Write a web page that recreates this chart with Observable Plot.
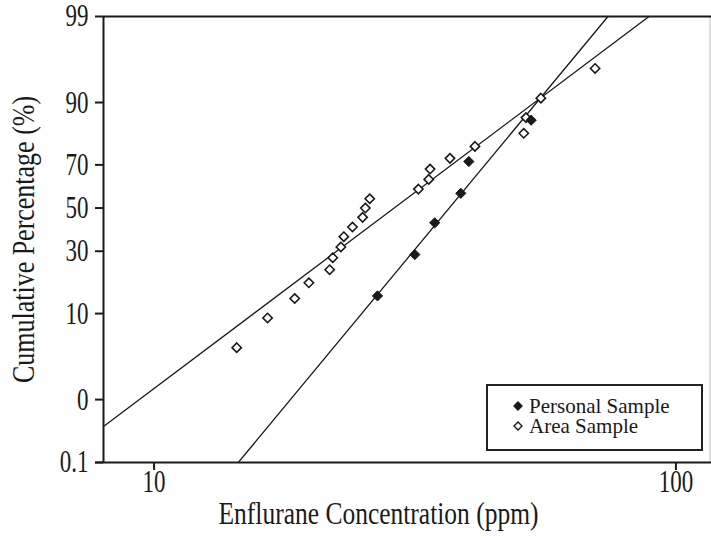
<!DOCTYPE html>
<html><head><meta charset="utf-8">
<script src="https://cdn.jsdelivr.net/npm/d3@7"></script>
<script src="https://cdn.jsdelivr.net/npm/@observablehq/plot@0.6"></script>
<style>
body{margin:0;background:#fff;}
#wrap{position:relative;width:711px;height:538px;font-family:Liberation Serif, Times New Roman, serif;color:#1a1a1a;}
#wrap svg{display:block;}
#legend{position:absolute;left:486px;top:384px;width:217px;height:67px;box-sizing:border-box;border:2px solid #222;background:#fff;font-size:21px;}
#legend .row{position:absolute;left:0;height:20px;line-height:20px;white-space:nowrap;}
#legend .row svg{position:absolute;left:25px;top:5px;}
#legend .row span{position:absolute;left:41px;top:0;}
</style></head><body><div id="wrap"></div>
<script>
// Data
const personalConc = [26.8, 31.6, 34.5, 38.7, 40.1, 52.8];
const personalPct  = [14.3, 28.6, 42.9, 57.1, 71.4, 85.7];
const areaConc = [14.4, 16.5, 18.6, 19.8, 21.7, 22.0, 22.8, 23.1, 24.0, 25.1, 25.4, 25.9, 32.1, 33.6, 33.8, 36.9, 41.2, 51.1, 51.6, 55.1, 70.0];
const areaPct  = [4.5, 9.1, 13.6, 18.2, 22.7, 27.3, 31.8, 36.4, 40.9, 45.5, 50.0, 54.5, 59.1, 63.6, 68.2, 72.7, 77.3, 81.8, 86.4, 90.9, 95.5];
const personalFitConc = [14.5, 74.1];
const personalFitPct  = [0.1, 99];
const areaFitConc = [8.0, 88.8];
const areaFitPct  = [0.4, 99];
const yTicks = [0.1, 1, 10, 30, 50, 70, 90, 99];
const yTickLabels = ["0.1", "0", "10", "30", "50", "70", "90", "99"];
const xTicks = [10, 100];
const xTickLabels = ["10", "100"];
const xDomain = [8.0, 117];
const yDomainPct = [0.1, 99];
const seriesNames = ["Personal Sample", "Area Sample"];
const xTitle = "Enflurane Concentration (ppm)";
const yTitle = "Cumulative Percentage (%)";

// normal-probability (probit) transform for the y scale
function probit(p){
  const a=[-3.969683028665376e+01,2.209460984245205e+02,-2.759285104469687e+02,1.383577518672690e+02,-3.066479806614716e+01,2.506628277459239e+00];
  const b=[-5.447609879822406e+01,1.615858368580409e+02,-1.556989798598866e+02,6.680131188771972e+01,-1.328068155288572e+01];
  const c=[-7.784894002430293e-03,-3.223964580411365e-01,-2.400758277161838e+00,-2.549732539343734e+00,4.374664141464968e+00,2.938163982698783e+00];
  const d=[7.784695709041462e-03,3.224671290700398e-01,2.445134137142996e+00,3.754408661907416e+00];
  const pl=0.02425, ph=1-pl;
  let q,r;
  if(p<pl){q=Math.sqrt(-2*Math.log(p));return (((((c[0]*q+c[1])*q+c[2])*q+c[3])*q+c[4])*q+c[5])/((((d[0]*q+d[1])*q+d[2])*q+d[3])*q+1);}
  if(p<=ph){q=p-0.5;r=q*q;return (((((a[0]*r+a[1])*r+a[2])*r+a[3])*r+a[4])*r+a[5])*q/(((((b[0]*r+b[1])*r+b[2])*r+b[3])*r+b[4])*r+1);}
  q=Math.sqrt(-2*Math.log(1-p));return -(((((c[0]*q+c[1])*q+c[2])*q+c[3])*q+c[4])*q+c[5])/((((d[0]*q+d[1])*q+d[2])*q+d[3])*q+1);
}
const z = pct => probit(pct/100);

const personal = personalConc.map((x,i)=>({x, y:z(personalPct[i])}));
const area = areaConc.map((x,i)=>({x, y:z(areaPct[i])}));
const personalFit = personalFitConc.map((x,i)=>({x, y:z(personalFitPct[i])}));
const areaFit = areaFitConc.map((x,i)=>({x, y:z(areaFitPct[i])}));
const yTickZ = yTicks.map(z);
const yDomain = yDomainPct.map(z);
const fmtY = d => { const i = yTickZ.findIndex(t=>Math.abs(t-d)<1e-9); return i<0 ? "" : yTickLabels[i]; };
const fmtX = d => { const i = xTicks.indexOf(d); return i<0 ? "" : xTickLabels[i]; };

const ink = "#1a1a1a";
const chart = Plot.plot({
  width: 711, height: 538,
  marginLeft: 103, marginRight: 0, marginTop: 16, marginBottom: 76,
  style: {fontFamily: "Liberation Serif, Times New Roman, serif", background: "#fff", color: ink},
  x: {type: "log", domain: xDomain},
  y: {domain: yDomain},
  marks: [
    Plot.ruleX([xDomain[1]], {stroke: "#bdbdbd", strokeWidth: 1, dx: -1.5}),
    Plot.line(areaFit, {x:"x", y:"y", stroke: ink, strokeWidth: 1.3, clip: true}),
    Plot.line(personalFit, {x:"x", y:"y", stroke: ink, strokeWidth: 1.3, clip: true}),
    Plot.dot(area, {x:"x", y:"y", symbol:"diamond2", r:4.2, stroke: ink, strokeWidth: 1.6, fill:"#fff"}),
    Plot.dot(personal, {x:"x", y:"y", symbol:"diamond2", r:4.6, stroke: ink, strokeWidth: 1, fill: ink}),
    Plot.ruleX([xDomain[0]], {stroke: ink, strokeWidth: 2}),
    Plot.ruleY([yDomain[1]], {stroke: ink, strokeWidth: 2}),
    Plot.ruleY([yDomain[0]], {stroke: ink, strokeWidth: 2, insetLeft: -8}),
    Plot.axisY({ticks: yTickZ, tickFormat: fmtY, tickSize: 8, tickPadding: 7, fontSize: 23, strokeWidth: 2, label: null}),
    Plot.axisX({ticks: xTicks, tickFormat: fmtX, tickSize: 8, tickPadding: 3, fontSize: 23, strokeWidth: 2, label: null}),
    Plot.text([xTitle], {frameAnchor: "bottom", dy: 52, dx: -29, lineAnchor: "middle", textAnchor: "middle", fontSize: 25.5, fill: ink}),
    Plot.text([yTitle], {frameAnchor: "left", rotate: -90, dx: -79, lineAnchor: "middle", textAnchor: "middle", fontSize: 26, fill: ink})
  ]
});
const wrap = document.getElementById("wrap");
wrap.appendChild(chart);

// the reference typeface is tall and narrow: stretch glyphs vertically about their centre
function stretch(el, k){
  const b = el.getBBox();
  const cy = b.y + b.height/2;
  const t = el.getAttribute("transform") || "";
  el.setAttribute("transform", `${t} translate(0,${cy}) scale(1,${k}) translate(0,${-cy})`.trim());
}
chart.querySelectorAll('g[aria-label="y-axis tick label"] text, g[aria-label="x-axis tick label"] text').forEach(t => stretch(t, 1.35));
const titles = chart.querySelectorAll('g[aria-label="text"] text');
if (titles[0]) stretch(titles[0], 1.2);
if (titles[1]) stretch(titles[1], 1.18);

// legend
const legend = document.createElement("div");
legend.id = "legend";
const fills = [ink, "#fff"];
seriesNames.forEach((name, i) => {
  const row = document.createElement("div");
  row.className = "row";
  row.style.top = (10 + i*20) + "px";
  row.innerHTML = `<svg width="10" height="10" viewBox="-5 -5 10 10"><path d="M0,-4L4,0L0,4L-4,0Z" fill="${fills[i]}" stroke="${ink}" stroke-width="1.4"/></svg><span>${name}</span>`;
  legend.appendChild(row);
});
wrap.appendChild(legend);
</script>
</body></html>
